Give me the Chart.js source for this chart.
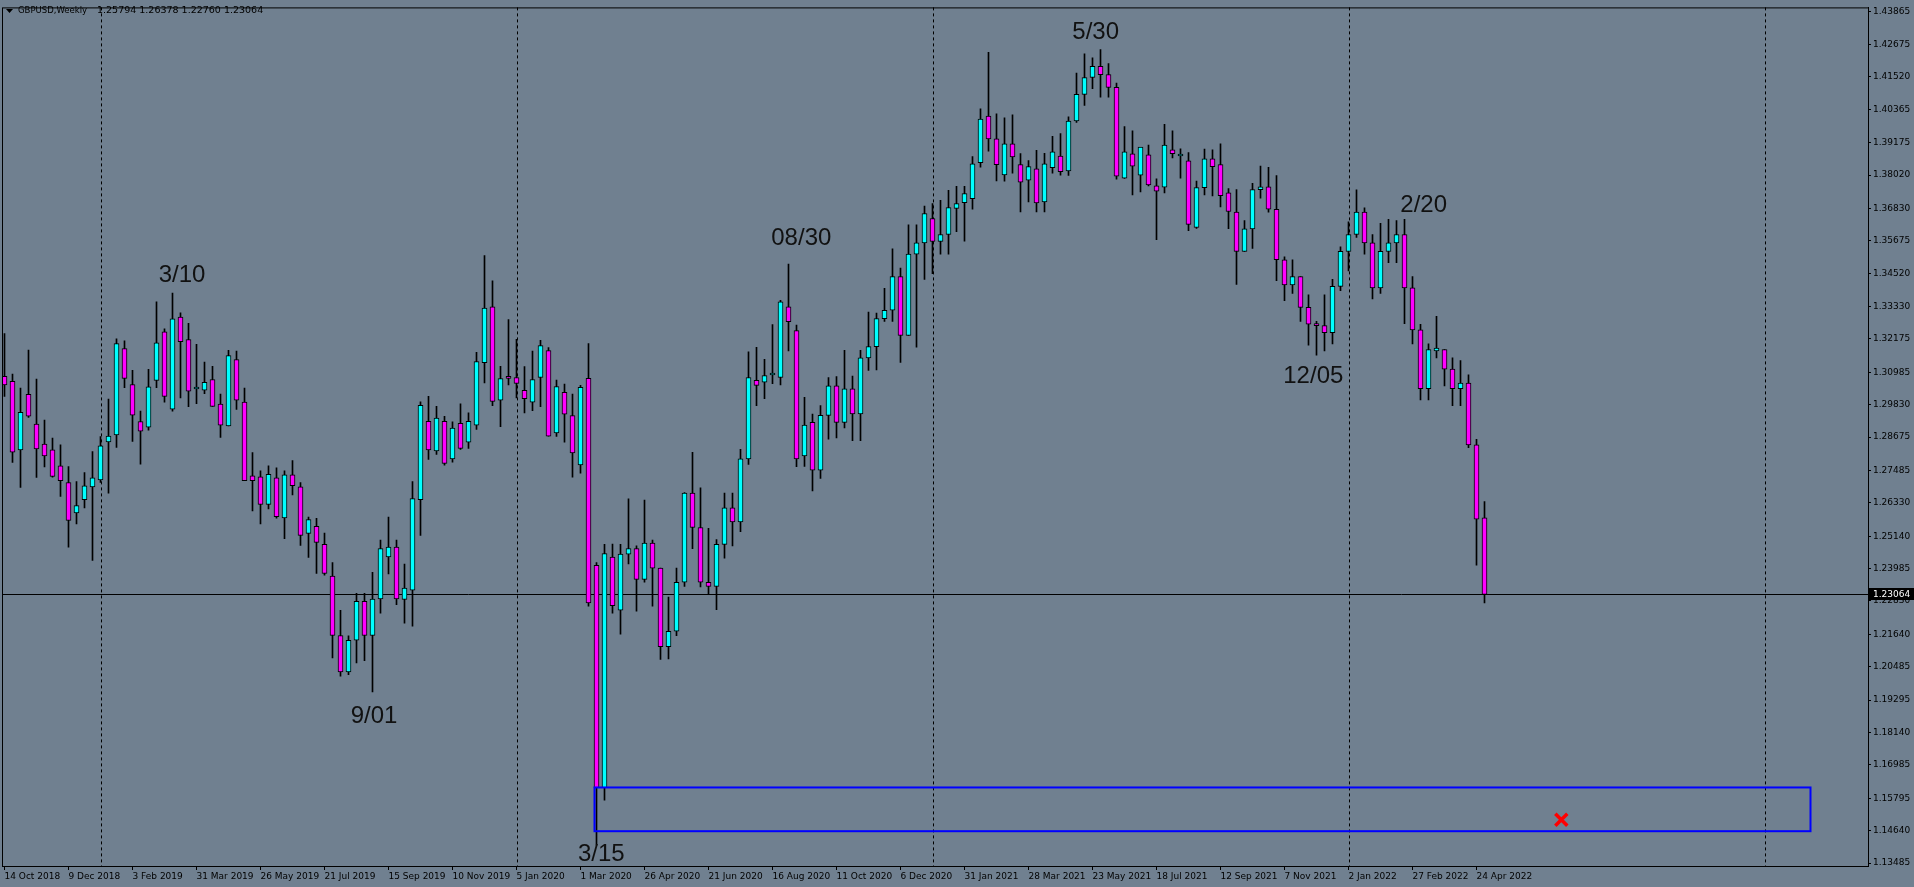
<!DOCTYPE html>
<html>
<head>
<meta charset="utf-8">
<script src="https://cdn.jsdelivr.net/npm/chart.js@4.4.0/dist/chart.umd.min.js"></script>
<style>
  html, body { margin: 0; padding: 0; background: #708090; overflow: hidden; }
  canvas { display: block; }
</style>
</head>
<body>
<canvas id="graph" width="1914" height="887"></canvas>
<script>
// GBPUSD weekly, one value per bar (bar 0 = week of 14 Oct 2018)
const opens = [
  1.3084, 1.3066, 1.2822, 1.3020, 1.2914, 1.2843, 1.2822, 1.2765, 1.2705, 1.2597,
  1.2644, 1.2690, 1.2715, 1.2850, 1.2875, 1.3183, 1.3055, 1.2923, 1.2903, 1.3070,
  1.3243, 1.2967, 1.3296, 1.3215, 1.3039, 1.3035, 1.3073, 1.2985, 1.2907, 1.3144,
  1.2992, 1.2729, 1.2726, 1.2627, 1.2722, 1.2579, 1.2733, 1.2690, 1.2524, 1.2549,
  1.2485, 1.2372, 1.2160, 1.2030, 1.2143, 1.2282, 1.2160, 1.2290, 1.2440, 1.2475,
  1.2289, 1.2322, 1.2644, 1.2924, 1.2818, 1.2924, 1.2790, 1.2917, 1.2849, 1.2910,
  1.3133, 1.3332, 1.2999, 1.3084, 1.3080, 1.3034, 1.2992, 1.3080, 1.3176, 1.2882,
  1.3027, 1.2944, 1.2768, 1.3077, 1.2410, 1.1617, 1.2440, 1.2250, 1.2450, 1.2470,
  1.2360, 1.2490, 1.2400, 1.2120, 1.2175, 1.2350, 1.2668, 1.2545, 1.2350, 1.2335,
  1.2485, 1.2615, 1.2565, 1.2790, 1.3070, 1.3063, 1.3089, 1.3080, 1.3332, 1.3247,
  1.2800, 1.2920, 1.2750, 1.2945, 1.3050, 1.2920, 1.3040, 1.2950, 1.3150, 1.3190,
  1.3290, 1.3320, 1.3440, 1.3230, 1.3520, 1.3560, 1.3647, 1.3565, 1.3590, 1.3683,
  1.3704, 1.3718, 1.3846, 1.4012, 1.3931, 1.3803, 1.3913, 1.3839, 1.3784, 1.3824,
  1.3706, 1.3828, 1.3870, 1.3817, 1.3995, 1.4090, 1.4150, 1.4190, 1.4160, 1.4115,
  1.3791, 1.3878, 1.3802, 1.3874, 1.3764, 1.3759, 1.3892, 1.3870, 1.3853, 1.3615,
  1.3757, 1.3860, 1.3839, 1.3739, 1.3670, 1.3530, 1.3610, 1.3750, 1.3760, 1.3680,
  1.3500, 1.3410, 1.3440, 1.3330, 1.3270, 1.3265, 1.3240, 1.3405, 1.3530, 1.3590,
  1.3670, 1.3560, 1.3400, 1.3530, 1.3560, 1.3590, 1.3400, 1.3250, 1.3040, 1.3175,
  1.3180, 1.3110, 1.3040, 1.3060, 1.2840, 1.25794
];
const highs = [
  1.3237, 1.3092, 1.3042, 1.3178, 1.3074, 1.2928, 1.2864, 1.2840, 1.2762, 1.2709,
  1.2741, 1.2816, 1.2869, 1.3003, 1.3218, 1.3211, 1.3106, 1.2960, 1.3109, 1.3350,
  1.3254, 1.3381, 1.3311, 1.3273, 1.3198, 1.3135, 1.3120, 1.3021, 1.3177, 1.3174,
  1.3042, 1.2812, 1.2747, 1.2765, 1.2758, 1.2747, 1.2784, 1.2705, 1.2582, 1.2578,
  1.2525, 1.2420, 1.2250, 1.2159, 1.2310, 1.2310, 1.2385, 1.2500, 1.2582, 1.2500,
  1.2415, 1.2709, 1.2993, 1.3013, 1.2977, 1.2942, 1.2922, 1.2986, 1.2954, 1.3170,
  1.3515, 1.3425, 1.3120, 1.3287, 1.3216, 1.3119, 1.3174, 1.3213, 1.3187, 1.3071,
  1.3057, 1.3021, 1.3052, 1.3201, 1.2420, 1.2485, 1.2486, 1.2485, 1.2647, 1.2480,
  1.2643, 1.2500, 1.2400, 1.2297, 1.2400, 1.2670, 1.2813, 1.2687, 1.2542, 1.2502,
  1.2668, 1.2668, 1.2824, 1.3172, 1.3188, 1.3145, 1.3269, 1.3355, 1.3485, 1.3267,
  1.3009, 1.2950, 1.2980, 1.3080, 1.3083, 1.3177, 1.3085, 1.3177, 1.3313, 1.3310,
  1.3398, 1.3539, 1.3470, 1.3625, 1.3625, 1.3691, 1.3700, 1.3712, 1.3748, 1.3762,
  1.3762, 1.3868, 1.4038, 1.4240, 1.4020, 1.4006, 1.4017, 1.3879, 1.3854, 1.3890,
  1.3880, 1.3940, 1.3950, 1.4010, 1.4166, 1.4234, 1.4220, 1.4250, 1.4200, 1.4130,
  1.3975, 1.3960, 1.3900, 1.3909, 1.3789, 1.3983, 1.3960, 1.3896, 1.3882, 1.3781,
  1.3895, 1.3892, 1.3913, 1.3754, 1.3750, 1.3640, 1.3773, 1.3834, 1.3830, 1.3800,
  1.3510, 1.3500, 1.3440, 1.3375, 1.3280, 1.3375, 1.3430, 1.3546, 1.3635, 1.3749,
  1.3685, 1.3590, 1.3630, 1.3644, 1.3640, 1.3644, 1.3440, 1.3270, 1.3200, 1.3298,
  1.3180, 1.3150, 1.3140, 1.3090, 1.2860, 1.26378
];
const lows = [
  1.3013, 1.2777, 1.2688, 1.2938, 1.2724, 1.2761, 1.2725, 1.2656, 1.2475, 1.2558,
  1.2615, 1.2428, 1.2706, 1.2668, 1.2831, 1.3044, 1.2852, 1.2771, 1.2892, 1.3044,
  1.2992, 1.2960, 1.3007, 1.2976, 1.2987, 1.3022, 1.2977, 1.2866, 1.2907, 1.2966,
  1.2712, 1.2604, 1.2558, 1.2611, 1.2578, 1.2505, 1.2661, 1.2481, 1.2438, 1.2381,
  1.2375, 1.2080, 1.2015, 1.2020, 1.2062, 1.2070, 1.1959, 1.2240, 1.2380, 1.2270,
  1.2204, 1.2193, 1.2517, 1.2788, 1.2806, 1.2767, 1.2778, 1.2824, 1.2827, 1.2895,
  1.3061, 1.2980, 1.2905, 1.3054, 1.3007, 1.2954, 1.2962, 1.2976, 1.2871, 1.2870,
  1.2849, 1.2725, 1.2739, 1.2265, 1.1412, 1.1573, 1.2240, 1.2165, 1.2415, 1.2247,
  1.2350, 1.2265, 1.2075, 1.2076, 1.2159, 1.2335, 1.2470, 1.2333, 1.2306, 1.2252,
  1.2436, 1.2479, 1.2530, 1.2770, 1.2980, 1.3005, 1.3058, 1.3054, 1.3175, 1.2762,
  1.2763, 1.2676, 1.2720, 1.2860, 1.2865, 1.2900, 1.2855, 1.2855, 1.3105, 1.3107,
  1.3280, 1.3280, 1.3134, 1.3230, 1.3188, 1.3430, 1.3450, 1.3520, 1.3520, 1.3600,
  1.3566, 1.3680, 1.3830, 1.3887, 1.3781, 1.3780, 1.3809, 1.3671, 1.3706, 1.3671,
  1.3671, 1.3809, 1.3802, 1.3801, 1.3990, 1.4050, 1.4110, 1.4080, 1.4080, 1.3787,
  1.3790, 1.3731, 1.3742, 1.3763, 1.3572, 1.3738, 1.3863, 1.3791, 1.3604, 1.3612,
  1.3731, 1.3728, 1.3688, 1.3611, 1.3412, 1.3530, 1.3540, 1.3720, 1.3670, 1.3425,
  1.3354, 1.3380, 1.3280, 1.3195, 1.3160, 1.3175, 1.3200, 1.3390, 1.3460, 1.3580,
  1.3520, 1.3360, 1.3380, 1.3490, 1.3490, 1.3272, 1.3200, 1.3000, 1.3000, 1.3150,
  1.3050, 1.2980, 1.2980, 1.2830, 1.2411, 1.22760
];
const closes = [
  1.3054, 1.2814, 1.2956, 1.2942, 1.2825, 1.2800, 1.2727, 1.2712, 1.2570, 1.2623,
  1.2694, 1.2722, 1.2836, 1.2871, 1.3201, 1.3077, 1.2946, 1.2889, 1.3047, 1.3204,
  1.3013, 1.3289, 1.3208, 1.3031, 1.3040, 1.3063, 1.2977, 1.2910, 1.3158, 1.2999,
  1.2712, 1.2712, 1.2627, 1.2735, 1.2584, 1.2733, 1.2694, 1.2517, 1.2573, 1.2492,
  1.2381, 1.2160, 1.2030, 1.2143, 1.2282, 1.2160, 1.2290, 1.2470, 1.2475, 1.2290,
  1.2329, 1.2648, 1.2981, 1.2822, 1.2935, 1.2774, 1.2900, 1.2827, 1.2924, 1.3137,
  1.3328, 1.2995, 1.3076, 1.3077, 1.3059, 1.3005, 1.3073, 1.3194, 1.2871, 1.3048,
  1.2949, 1.2811, 1.3045, 1.2276, 1.1617, 1.2452, 1.2266, 1.2450, 1.2470, 1.2360,
  1.2490, 1.2400, 1.2120, 1.2175, 1.2350, 1.2668, 1.2545, 1.2350, 1.2335, 1.2485,
  1.2615, 1.2565, 1.2790, 1.3080, 1.3052, 1.3087, 1.3091, 1.3350, 1.3279, 1.2790,
  1.2910, 1.2750, 1.2945, 1.3050, 1.2920, 1.3040, 1.2950, 1.3150, 1.3190, 1.3290,
  1.3320, 1.3440, 1.3230, 1.3520, 1.3560, 1.3665, 1.3565, 1.3590, 1.3686, 1.3700,
  1.3736, 1.3842, 1.4002, 1.3931, 1.3839, 1.3913, 1.3867, 1.3777, 1.3832, 1.3703,
  1.3842, 1.3885, 1.3814, 1.3995, 1.4090, 1.4150, 1.4190, 1.4160, 1.4115, 1.3798,
  1.3885, 1.3834, 1.3902, 1.3767, 1.3745, 1.3909, 1.3878, 1.3870, 1.3626, 1.3757,
  1.3860, 1.3832, 1.3729, 1.3672, 1.3530, 1.3610, 1.3750, 1.3760, 1.3680, 1.3500,
  1.3410, 1.3440, 1.3330, 1.3270, 1.3265, 1.3240, 1.3405, 1.3530, 1.3590, 1.3670,
  1.3560, 1.3400, 1.3530, 1.3560, 1.3590, 1.3400, 1.3250, 1.3040, 1.3180, 1.3185,
  1.3110, 1.3040, 1.3060, 1.2840, 1.2575, 1.23064
];

// bottom axis: one label every 8 bars, starting at bar 0
const dateLabels = [
  '14 Oct 2018', '9 Dec 2018', '3 Feb 2019', '31 Mar 2019', '26 May 2019', '21 Jul 2019',
  '15 Sep 2019', '10 Nov 2019', '5 Jan 2020', '1 Mar 2020', '26 Apr 2020', '21 Jun 2020',
  '16 Aug 2020', '11 Oct 2020', '6 Dec 2020', '31 Jan 2021', '28 Mar 2021', '23 May 2021',
  '18 Jul 2021', '12 Sep 2021', '7 Nov 2021', '2 Jan 2022', '27 Feb 2022', '24 Apr 2022'
];
const labelStep = 8;

// right axis price labels
const priceTicks = [
  1.43865, 1.42675, 1.41520, 1.40365, 1.39175, 1.38020, 1.36830, 1.35675, 1.34520,
  1.33330, 1.32175, 1.30985, 1.29830, 1.28675, 1.27485, 1.26330, 1.25140, 1.23985,
  1.22830, 1.21640, 1.20485, 1.19295, 1.18140, 1.16985, 1.15795, 1.14640, 1.13485
];

const separatorBars = [12, 64, 116, 168, 220];
const lastPrice = closes[closes.length - 1];

const notes = [
  { text: '3/10', bar: 22.2, price: 1.3419 },
  { text: '9/01', bar: 46.2, price: 1.1848 },
  { text: '3/15', bar: 74.6, price: 1.1356 },
  { text: '08/30', bar: 99.6, price: 1.3552 },
  { text: '5/30', bar: 136.4, price: 1.4289 },
  { text: '2/20', bar: 177.4, price: 1.3672 },
  { text: '12/05', bar: 163.6, price: 1.3062 }
];
const zoneBars = [73.75, 225.75];
const zonePrices = [1.1618, 1.1462];
const crossMark = { bar: 194.6, price: 1.1503 };

const bars = opens.map((o, i) => i);
const wickData = bars.map(i => ({ x: i, y: [lows[i], highs[i]] }));
const bodyData = bars.map(i => ({ x: i, y: [Math.min(opens[i], closes[i]), Math.max(opens[i], closes[i])] }));
const bodyColors = bars.map(i => (closes[i] >= opens[i] ? '#00ffff' : '#ff00ff'));

Chart.defaults.font.family = '"DejaVu Sans", sans-serif';
Chart.defaults.font.size = 9;
Chart.defaults.color = '#000';

const overlay = {
  id: 'overlay',
  beforeDatasetsDraw(chart) {
    const { ctx, chartArea: a, scales: { x, y } } = chart;
    ctx.save();
    ctx.strokeStyle = '#000';
    ctx.lineWidth = 1;
    ctx.setLineDash([3, 3]);
    separatorBars.forEach(b => {
      const px = Math.round(x.getPixelForValue(b)) + 0.5;
      ctx.beginPath();
      ctx.moveTo(px, a.top);
      ctx.lineTo(px, a.bottom);
      ctx.stroke();
    });
    ctx.setLineDash([]);
    const py = Math.round(y.getPixelForValue(lastPrice)) + 0.5;
    ctx.beginPath();
    ctx.moveTo(a.left, py);
    ctx.lineTo(a.right, py);
    ctx.stroke();
    ctx.restore();
  },
  afterDraw(chart) {
    const { ctx, chartArea: a, scales: { x, y } } = chart;
    ctx.save();

    // support zone
    ctx.strokeStyle = '#0000ff';
    ctx.lineWidth = 2;
    const zx0 = x.getPixelForValue(zoneBars[0]), zx1 = x.getPixelForValue(zoneBars[1]);
    const zy0 = y.getPixelForValue(zonePrices[0]), zy1 = y.getPixelForValue(zonePrices[1]);
    ctx.strokeRect(zx0, zy0, zx1 - zx0, zy1 - zy0);

    // red cross
    const cx = x.getPixelForValue(crossMark.bar), cy = y.getPixelForValue(crossMark.price);
    ctx.strokeStyle = '#ff0000';
    ctx.lineWidth = 3.5;
    ctx.beginPath();
    ctx.moveTo(cx - 6, cy - 6); ctx.lineTo(cx + 6, cy + 6);
    ctx.moveTo(cx + 6, cy - 6); ctx.lineTo(cx - 6, cy + 6);
    ctx.stroke();

    // date notes
    ctx.fillStyle = '#111';
    ctx.font = '24px "Liberation Sans", Arial, sans-serif';
    ctx.textAlign = 'center';
    ctx.textBaseline = 'alphabetic';
    notes.forEach(n => ctx.fillText(n.text, x.getPixelForValue(n.bar), y.getPixelForValue(n.price)));

    // frame
    ctx.strokeStyle = '#000';
    ctx.lineWidth = 1;
    ctx.strokeRect(a.left + 0.5, a.top + 0.5, a.right - a.left, a.bottom - a.top);

    // header
    ctx.fillStyle = '#000';
    ctx.beginPath();
    ctx.moveTo(6, 9); ctx.lineTo(13, 9); ctx.lineTo(9.5, 13); ctx.closePath();
    ctx.fill();
    ctx.textAlign = 'left';
    ctx.textBaseline = 'middle';
    const n = closes.length - 1;
    ctx.font = '8.5px "DejaVu Sans", sans-serif';
    ctx.fillText('GBPUSD,Weekly', 18, 11);
    ctx.font = '9.5px "DejaVu Sans", sans-serif';
    ctx.fillText([opens[n], highs[n], lows[n], closes[n]].map(v => v.toFixed(5)).join(' '), 97, 11);

    // last price tag
    const py = Math.round(y.getPixelForValue(lastPrice));
    ctx.font = '9px "DejaVu Sans", sans-serif';
    ctx.fillStyle = '#000';
    ctx.fillRect(a.right + 1, py - 6, 1914 - a.right - 1, 12);
    ctx.fillStyle = '#fff';
    ctx.fillText(lastPrice.toFixed(5), a.right + 5, py + 0.5);
    ctx.restore();
  }
};

new Chart(document.getElementById('graph'), {
  type: 'bar',
  data: {
    datasets: [
      {
        label: 'body',
        data: bodyData,
        backgroundColor: bodyColors,
        borderColor: '#000',
        borderWidth: 1,
        borderSkipped: false,
        barThickness: 5,
        minBarLength: 2,
        grouped: false,
        order: 0
      },
      {
        label: 'wick',
        data: wickData,
        backgroundColor: '#000',
        borderWidth: 0,
        barThickness: 1,
        grouped: false,
        order: 1
      }
    ]
  },
  options: {
    responsive: false,
    devicePixelRatio: 1,
    animation: false,
    events: [],
    layout: { padding: { top: 2, left: 2, right: 0, bottom: 0 } },
    plugins: { legend: { display: false }, tooltip: { enabled: false } },
    scales: {
      x: {
        type: 'linear',
        offset: false,
        min: -0.3125,
        max: 232.9375,
        grid: { drawOnChartArea: false, tickLength: 4, color: '#000', offset: false },
        border: { color: '#000' },
        ticks: {
          autoSkip: false,
          maxRotation: 0,
          align: 'start',
          padding: 1,
          callback: v => dateLabels[Math.round(v / labelStep)]
        },
        afterBuildTicks: s => { s.ticks = dateLabels.map((_, k) => ({ value: k * labelStep })); },
        afterFit: s => { s.height = 21; }
      },
      y: {
        position: 'right',
        min: 1.13379,
        max: 1.44,
        grid: { drawOnChartArea: false, tickLength: 3, color: '#000' },
        border: { color: '#000' },
        ticks: { padding: 2, callback: v => v.toFixed(5) },
        afterBuildTicks: s => { s.ticks = priceTicks.map(v => ({ value: v })); },
        afterFit: s => { s.width = 46; }
      }
    }
  },
  plugins: [overlay]
});
</script>
</body>
</html>
